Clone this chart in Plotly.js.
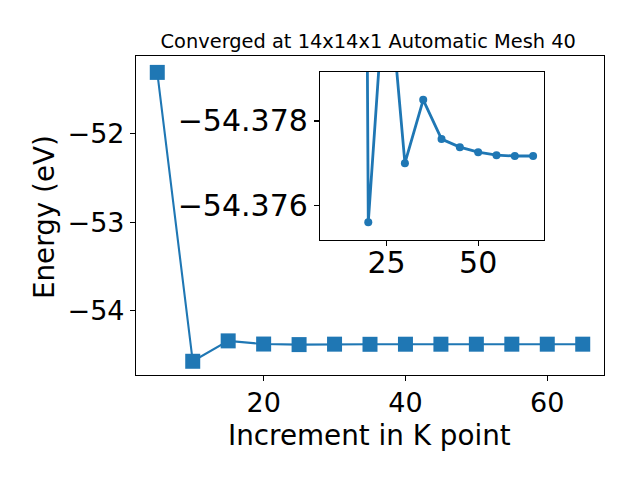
<!DOCTYPE html>
<html>
<head>
<meta charset="utf-8">
<script src="https://cdn.plot.ly/plotly-3.0.1.min.js"></script>
<style>html,body{margin:0;padding:0;background:#fff;}#chart{width:640px;height:480px;}</style>
</head>
<body>
<div id="chart"></div>
<script>
// Main series: total energy vs K-point increment
const kpoints = [5, 10, 15, 20, 25, 30, 35, 40, 45, 50, 55, 60, 65];
const energy = [-51.31, -54.57, -54.34, -54.3756, -54.3819, -54.3770, -54.3785, -54.37757, -54.37738, -54.37726, -54.37719, -54.37717, -54.37717];

// Inset series
const insetK = [15, 20, 25, 30, 35, 40, 45, 50, 55, 60, 65];
const insetE = [-54.45, -54.3756, -54.3819, -54.3770, -54.3785, -54.37757, -54.37738, -54.37726, -54.37719, -54.37717, -54.37717];

const titleText = 'Converged at 14x14x1 Automatic Mesh 40';
const xTitle = 'Increment in K point';
const yTitle = 'Energy (eV)';

const blue = '#1f77b4';
const font = 'DejaVu Sans, sans-serif';

const traces = [
  {
    x: kpoints, y: energy, type: 'scatter', mode: 'lines+markers',
    line: {color: blue, width: 2.1},
    marker: {symbol: 'square', size: 15, color: blue},
    xaxis: 'x', yaxis: 'y', hoverinfo: 'skip', cliponaxis: true
  },
  {
    x: insetK, y: insetE, type: 'scatter', mode: 'lines+markers',
    line: {color: blue, width: 2.8},
    marker: {symbol: 'circle', size: 8, color: blue},
    xaxis: 'x2', yaxis: 'y2', hoverinfo: 'skip', cliponaxis: true
  }
];

const axCommon = {
  showgrid: false, zeroline: false, showline: true, mirror: true,
  linecolor: '#000', linewidth: 1.1, ticks: 'outside', ticklen: 5,
  tickwidth: 1.1, tickcolor: '#000'
};

const layout = {
  width: 640, height: 480,
  margin: {l: 136, r: 36, t: 56, b: 105},
  paper_bgcolor: '#fff', plot_bgcolor: '#fff',
  showlegend: false,
  font: {family: font, color: '#000'},
  title: {text: titleText, font: {family: font, size: 19.4, color: '#000'},
          x: 0.5754, xanchor: 'center', y: 0.915, yanchor: 'middle'},
  xaxis: Object.assign({}, axCommon, {
    domain: [0, 1], range: [2, 68], tick0: 0, dtick: 20,
    tickfont: {family: font, size: 27}, ticklabelstandoff: -2
  }),
  yaxis: Object.assign({}, axCommon, {
    domain: [0, 1], range: [-54.725, -51.125], tick0: 0, dtick: 1,
    tickfont: {family: font, size: 27}
  }),
  xaxis2: Object.assign({}, axCommon, {
    domain: [0.393, 0.872], anchor: 'y2', range: [6.8, 68.0], tick0: 0, dtick: 25,
    tickfont: {family: font, size: 30}, ticklabelstandoff: -9
  }),
  yaxis2: Object.assign({}, axCommon, {
    domain: [0.423, 0.950], anchor: 'x2', range: [-54.37518, -54.37916],
    tick0: -54.376, dtick: 0.002, tickformat: '.3f',
    tickfont: {family: font, size: 30}
  }),
  annotations: [
    {text: xTitle, xref: 'paper', yref: 'paper', x: 0.499, y: -0.19,
     xanchor: 'center', yanchor: 'middle', showarrow: false,
     font: {family: font, size: 27.8, color: '#000'}},
    {text: yTitle, xref: 'paper', yref: 'paper', x: -0.1966, y: 0.495,
     xanchor: 'center', yanchor: 'middle', showarrow: false, textangle: -90,
     font: {family: font, size: 27.8, color: '#000'}}
  ]
};

Plotly.newPlot('chart', traces, layout, {staticPlot: true, displayModeBar: false});
</script>
</body>
</html>
